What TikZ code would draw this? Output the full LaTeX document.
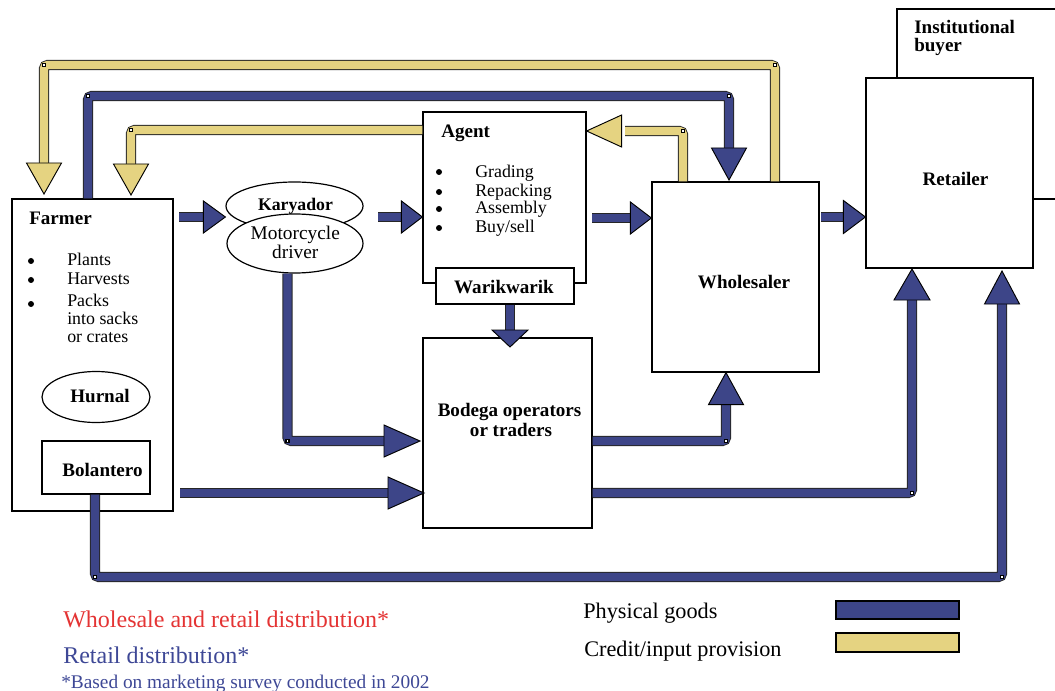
\documentclass[tikz,border=0pt]{standalone}
\usepackage{fontspec}
\setmainfont{Liberation Serif}
\usetikzlibrary{shapes.geometric,calc}
\definecolor{gblue}{RGB}{61,69,136}
\definecolor{cyel}{RGB}{229,211,129}
\definecolor{tred}{RGB}{228,52,52}
\definecolor{tblue}{RGB}{62,72,150}
\newcommand\band[2]{%
  \draw[line width=7.8pt,black!85,rounded corners=3pt] #2;
  \draw[line width=6.1pt,#1,rounded corners=2.5pt] #2;}
\tikzset{
  box/.style={draw,line width=0.9pt,fill=white,inner sep=0pt},
  oval/.style={ellipse,draw,line width=0.9pt,fill=white,inner sep=0pt},
  lbl/.style={font=\fontsize{14.3}{16}\selectfont\bfseries,inner sep=0pt},
  txt/.style={font=\fontsize{13.4}{15}\selectfont,inner sep=0pt},
  legtxt/.style={font=\fontsize{16.7}{19}\selectfont,inner sep=0pt},
  pics/ahead/.style n args={3}{code={%
    \filldraw[fill=#1,draw=black,line width=0.7pt,line join=miter]
      (0,0) -- (-#2,-#3) -- (-#2,#3) -- cycle;}},
}
\begin{document}
\begin{tikzpicture}[x=0.75pt,y=-0.75pt]
\path[use as bounding box] (0,0) rectangle (1055,691);
\clip (0,0) rectangle (1055,691);

% ---------- boxes ----------
\node[box,minimum width=178*0.75pt,minimum height=190*0.75pt] (inst) at (986,104) {};
\node[box,minimum width=167*0.75pt,minimum height=190*0.75pt] (retailer) at (949.5,173) {};
\node[box,minimum width=161*0.75pt,minimum height=312*0.75pt] (farmer) at (92.5,355) {};
\node[box,minimum width=163*0.75pt,minimum height=171*0.75pt] (agent) at (504.5,197.5) {};
\node[box,minimum width=138*0.75pt,minimum height=36*0.75pt] (warik) at (505,286) {};
\node[box,minimum width=167*0.75pt,minimum height=190*0.75pt] (wholesaler) at (735.5,277) {};
\node[box,minimum width=169*0.75pt,minimum height=190*0.75pt] (bodega) at (507.5,433) {};
\node[box,minimum width=108*0.75pt,minimum height=53*0.75pt] (bolantero) at (96,467.5) {};
\node[oval,minimum width=108*0.75pt,minimum height=51*0.75pt] (hurnal) at (96,397) {};
\node[oval,minimum width=137*0.75pt,minimum height=48*0.75pt] (karyador) at (294.5,206) {};
\node[oval,minimum width=136*0.75pt,minimum height=59*0.75pt] (motor) at (295,243.5) {};

% ---------- labels ----------
\node[lbl,anchor=base west] (tinst1) at (914,34) {Institutional};
\node[lbl,anchor=base west] (tinst2) at (914,52) {buyer};
\node[lbl,anchor=base] (tretailer) at (955.5,186) {Retailer};
\node[lbl,anchor=base west] (tfarmer) at (29,225) {Farmer};
\node[lbl,anchor=base west] (tagent) at (441,138) {Agent};
\node[lbl,anchor=base] (twarik) at (504,294) {Warikwarik};
\node[lbl,anchor=base] (twhole) at (744,289) {Wholesaler};
\node[lbl,anchor=base] (tbod1) at (509.5,416) {Bodega operators};
\node[lbl,anchor=base] (tbod2) at (511,436) {or traders};
\node[lbl,anchor=base] (thurnal) at (100,402) {Hurnal};
\node[lbl,anchor=base] (tbol) at (102.5,476) {Bolantero};
\node[lbl,font=\fontsize{13.3}{15}\selectfont\bfseries,anchor=base] (tkary) at (295.5,211) {Karyador};
\node[txt,font=\fontsize{14.5}{16}\selectfont,anchor=base] (tmot1) at (295.3,240) {Motorcycle};
\node[txt,font=\fontsize{14.5}{16}\selectfont,anchor=base] (tmot2) at (295.3,259) {driver};

\foreach \t/\y [count=\i] in {Plants/266,Harvests/285,Packs/306,into sacks/324,or crates/342}
  \node[txt,anchor=base west] (fl\i) at (67,\y) {\t};
\foreach \y in {261,280,304} \fill (31,\y) circle (3);

\foreach \t/\y [count=\i] in {Grading/178,Repacking/197,Assembly/214,{Buy/sell}/233}
  \node[txt,anchor=base west] (al\i) at (475,\y) {\t};
\foreach \y in {172,192,209,228} \fill (439,\y) circle (3);

% ---------- physical goods (blue) ----------
\band{gblue}{(179,217) -- (206,217)}
\pic at (karyador.west |- 0,217) {ahead={gblue}{22}{16}};
\band{gblue}{(378,217) -- (404,217)}
\pic at (agent.west |- 0,217) {ahead={gblue}{21}{16}};
\band{gblue}{(592,218) -- (633,218)}
\pic at (wholesaler.west |- 0,218) {ahead={gblue}{21}{16}};
\band{gblue}{(821,217) -- (847,217)}
\pic at (retailer.west |- 0,217) {ahead={gblue}{22}{16.5}};
\band{gblue}{(warik.south -| 510,0) -- (510,332)}
\pic[rotate=-90] at (510,347) {ahead={gblue}{17}{18}};
\band{gblue}{(motor.south -| 287.5,0) |- (386,441)}
\pic at (420,441) {ahead={gblue}{36}{16}};
\band{gblue}{(180,493) -- (390,493)}
\pic at (424,493) {ahead={gblue}{36}{16}};
\band{gblue}{(bodega.east |- 0,441) -| (726,405)}
\pic[rotate=90] at (wholesaler.south -| 726,0) {ahead={gblue}{32}{17.5}};
\band{gblue}{(bodega.east |- 0,493) -| (912,298)}
\pic[rotate=90] at (912,269) {ahead={gblue}{31}{18}};
\band{gblue}{(bolantero.south -| 95,0) |- (1002,577) -- (1002,302)}
\pic[rotate=90] at (1002,271) {ahead={gblue}{33}{17.5}};
\band{gblue}{(farmer.north -| 88,0) |- (729,96) -- (729,150)}
\pic[rotate=-90] at (729,180) {ahead={gblue}{32}{17.5}};

% ---------- credit / input provision (yellow) ----------
\band{cyel}{(wholesaler.north -| 775,0) |- (44,65) -- (44,165)}
\pic[rotate=-90] at (44,194) {ahead={cyel}{31}{17.5}};
\band{cyel}{(agent.west |- 0,130) -| (131,166)}
\pic[rotate=-90] at (131,195) {ahead={cyel}{31}{17.5}};
\band{cyel}{(wholesaler.north -| 683,0) |- (625,131)}
\pic[rotate=180] at (agent.east |- 0,131) {ahead={cyel}{35}{16}};

% corner markers
\foreach \x/\y in {775/65,44/65,88/96,729/96,131/130,683/131,287.5/441,726/441,912/493,95/577,1002/577}{
  \fill[black] (\x-2.2,\y-2.2) rectangle (\x+2.2,\y+2.2);
  \fill[white] (\x-0.8,\y-0.8) rectangle (\x+0.8,\y+0.8);}

% ---------- legend ----------
\node[font=\fontsize{18}{20}\selectfont,text=tred,inner sep=0pt,anchor=base west] (lwr) at (63,627) {Wholesale and retail distribution*};
\node[font=\fontsize{18}{20}\selectfont,text=tblue,inner sep=0pt,anchor=base west] (lr) at (63,663) {Retail distribution*};
\node[font=\fontsize{14.5}{17}\selectfont,text=tblue,inner sep=0pt,anchor=base west] (lnote) at (61,688) {*Based on marketing survey conducted in 2002};
\node[legtxt,anchor=base west] (lphys) at (583,618) {Physical goods};
\node[legtxt,anchor=base west] (lcred) at (584,656) {Credit/input provision};
\node[draw=black,line width=1pt,fill=gblue,minimum width=123*0.75pt,minimum height=18*0.75pt,inner sep=0pt] (barblue) at (897.5,610) {};
\node[draw=black,line width=1pt,fill=cyel,minimum width=123*0.75pt,minimum height=19*0.75pt,inner sep=0pt] (baryel) at (897.5,642.5) {};
\end{tikzpicture}
\end{document}
